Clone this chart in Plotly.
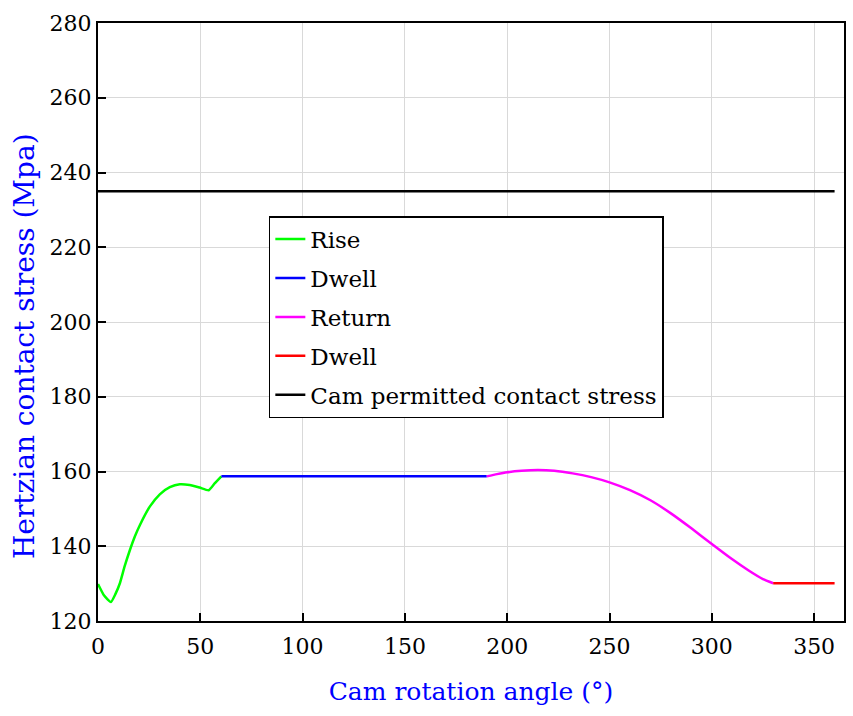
import plotly.graph_objects as go

# Rise segment
rise_x = [0, 3, 6.3, 8.5, 10.7, 13, 15.6, 18, 20.5, 25.3, 30.2, 35.1, 40, 44.8, 49.7, 54.1, 57, 60.3]
rise_y = [129.9, 126.8, 125.1, 127.2, 130.1, 134.6, 139.0, 142.6, 145.7, 150.6, 153.9, 155.8, 156.6, 156.4, 155.7, 155.0, 156.8, 158.7]

# Dwell segment
dwell1_x = [60.3, 190]
dwell1_y = [158.7, 158.7]

# Return segment
return_x = [190, 195, 200, 207, 215, 223, 232, 241, 250, 260, 270, 280, 290, 300, 310, 318, 325, 330]
return_y = [158.7, 159.3, 159.8, 160.2, 160.4, 160.2, 159.5, 158.5, 157.1, 155.0, 152.3, 148.8, 144.8, 140.6, 136.5, 133.5, 131.2, 130.1]

# Second dwell
dwell2_x = [330, 360]
dwell2_y = [130.1, 130.1]

# Permitted stress
perm_x = [0, 360]
perm_y = [235, 235]

x_ticks = [0, 50, 100, 150, 200, 250, 300, 350]
y_ticks = [120, 140, 160, 180, 200, 220, 240, 260, 280]

FONT = "DejaVu Serif"

fig = go.Figure()
series = [
    (rise_x, rise_y, "Rise", "#00ff00"),
    (dwell1_x, dwell1_y, "Dwell", "#0000ff"),
    (return_x, return_y, "Return", "#ff00ff"),
    (dwell2_x, dwell2_y, "Dwell", "#ff0000"),
    (perm_x, perm_y, "Cam permitted contact stress", "#000000"),
]
for i, (xs, ys, name, col) in enumerate(series):
    fig.add_trace(go.Scatter(x=xs, y=ys, mode="lines", name=name,
                             line=dict(color=col, width=2.5, shape="spline", smoothing=0.5),
                             legendgroup=f"g{i}"))

fig.update_layout(
    width=853, height=716,
    margin=dict(l=98, r=7, t=23, b=95),
    plot_bgcolor="white", paper_bgcolor="white",
    font=dict(family=FONT, color="black", size=22),
    showlegend=True,
    legend=dict(x=0.229, y=0.677, xanchor="left", yanchor="top",
                bgcolor="white", bordercolor="black", borderwidth=1.5,
                font=dict(family=FONT, size=23, color="black"),
                tracegroupgap=6),
    xaxis=dict(range=[0, 364.6], tickvals=x_ticks, showgrid=True, gridcolor="#d9d9d9", gridwidth=1.2,
               showline=True, linecolor="black", linewidth=2, mirror=True,
               ticks="inside", ticklen=8, tickwidth=2, tickcolor="black",
               zeroline=False, ticklabelstandoff=5,
               title=dict(text="Cam rotation angle (°)", font=dict(family=FONT, size=25, color="#0000ff"), standoff=24),
               tickfont=dict(family=FONT, size=22)),
    yaxis=dict(range=[120, 280], tickvals=y_ticks, showgrid=True, gridcolor="#d9d9d9", gridwidth=1.2,
               showline=True, linecolor="black", linewidth=2, mirror=True,
               ticks="inside", ticklen=8, tickwidth=2, tickcolor="black",
               zeroline=False,
               tickfont=dict(family=FONT, size=22)),
    annotations=[dict(text="Hertzian contact stress (Mpa)", textangle=-90,
                      xref="paper", yref="paper", x=-0.0976, y=0.46,
                      xanchor="center", yanchor="middle", showarrow=False,
                      font=dict(family=FONT, size=28, color="#0000ff"))],
)

fig.write_html("out.html")
